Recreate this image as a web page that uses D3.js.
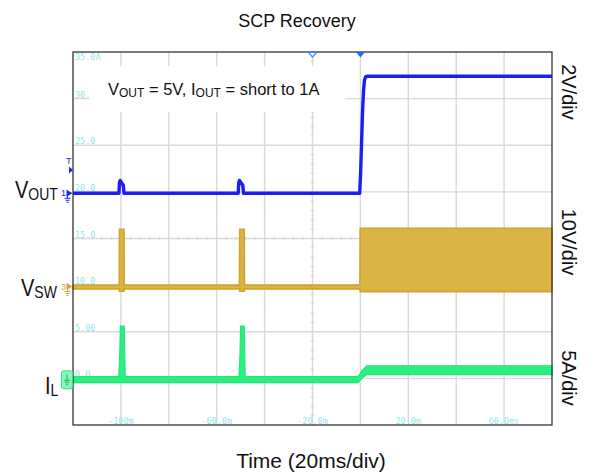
<!DOCTYPE html>
<html><head><meta charset="utf-8">
<script src="https://cdn.jsdelivr.net/npm/d3@7"></script>
<style>
html,body{margin:0;padding:0;background:#fff;}
svg{display:block;font-family:"Liberation Sans",Arial,sans-serif;}
</style></head><body>
<svg id="chart" width="593" height="473"></svg>
<script>
// ---------- data ----------
const title = "SCP Recovery";
const xAxisTitle = "Time (20ms/div)";
const timeDomain = [-120, 80];            // ms, 10 div x 20 ms
const xTickTimes = [-100, -60, -20, 20, 60];
const xTickLabels = ["-100m", "-60.0m", "-20.0m", "20.0m", "60.0ms"];
const yTickLabels = ["35.0A", "30.", "25.0", "20.0", "15.0", "10.0", "5.00", "0.0"];
const channelNames = ["VOUT", "VSW", "IL"];
const channelScales = ["2V/div", "10V/div", "5A/div"];

// VOUT (V)
const voutTime = [-120, -100.8, -100.6, -100.3, -99.4, -99.0, -98.7, -51.0, -50.8, -50.5, -49.5, -49.1, -48.8, -0.3, 0.1, 0.5, 0.9, 1.3, 1.7, 2.2, 3.0, 80];
const voutValue = [0, 0, 0.45, 0.55, 0.4, 0.35, 0, 0, 0.45, 0.55, 0.4, 0.35, 0, 0, 0.9, 2.2, 3.5, 4.4, 4.85, 5.0, 5.02, 5.02];

// VSW envelope (V)
const vswTime = [-120, -100.7, -100.6, -98.7, -98.6, -50.5, -50.4, -48.5, -48.4, -0.2, -0.1, 80];
const vswHigh = [0.3, 0.3, 12.3, 12.3, 0.3, 0.3, 12.3, 12.3, 0.3, 0.3, 12.5, 12.5];
const vswLow  = [-0.5, -0.5, -1.0, -1.0, -0.5, -0.5, -1.0, -1.0, -0.5, -0.5, -1.1, -1.1];

// IL envelope (A)
const ilTime = [-120, -100.9, -100.5, -100.2, -98.6, -98.2, -50.7, -50.3, -50.0, -48.5, -48.1, -0.9, 0.6, 2.6, 80];
const ilHigh = [0.3, 0.3, 2.5, 5.7, 5.7, 0.3, 0.3, 2.5, 5.7, 5.7, 0.3, 0.3, 0.9, 1.45, 1.45];
const ilLow  = [-0.35, -0.35, -0.35, -0.35, -0.35, -0.35, -0.35, -0.35, -0.35, -0.35, -0.35, -0.35, 0.1, 0.5, 0.5];

// ---------- layout ----------
const X0 = 73, X1 = 552, Y0 = 52, Y1 = 425;
const svg = d3.select("#chart");
const x = d3.scaleLinear().domain(timeDomain).range([X0, X1]);
const yDiv = d3.scaleLinear().domain([0, 8]).range([Y0, Y1]);
const divH = (Y1 - Y0) / 8, divW = (X1 - X0) / 10;
function chScale(zeroDiv, perDiv) {
  return d3.scaleLinear().domain([zeroDiv * perDiv, (zeroDiv - 8) * perDiv]).range([Y0, Y1]);
}
const yV1 = chScale(3.03, 2);
const yV3 = chScale(5.03, 10);
const yI4 = chScale(7.02, 5);

const gridColor = "#d9d9d9";
const g = svg.append("g");

// grid
const gridTimes = d3.range(10 + 1).map(i => timeDomain[0] + i * 20);
g.selectAll("line.vg").data(gridTimes.slice(1, -1)).join("line")
  .attr("x1", d => x(d)).attr("x2", d => x(d)).attr("y1", Y0).attr("y2", Y1)
  .attr("stroke", gridColor).attr("stroke-width", 1.4);
g.selectAll("line.hg").data(d3.range(1, 8)).join("line")
  .attr("y1", d => yDiv(d)).attr("y2", d => yDiv(d)).attr("x1", X0).attr("x2", X1)
  .attr("stroke", gridColor).attr("stroke-width", 1.4);
// center ticks
const cx = x(-20), cy = yDiv(4);
g.selectAll("line.tx").data(d3.range(0, 51)).join("line")
  .attr("x1", d => X0 + d * divW / 5).attr("x2", d => X0 + d * divW / 5)
  .attr("y1", cy - 2).attr("y2", cy + 2).attr("stroke", gridColor).attr("stroke-width", 1);
g.selectAll("line.ty").data(d3.range(0, 41)).join("line")
  .attr("y1", d => Y0 + d * divH / 5).attr("y2", d => Y0 + d * divH / 5)
  .attr("x1", cx - 2).attr("x2", cx + 2).attr("stroke", gridColor).attr("stroke-width", 1);

// cyan scale labels
const cyan = "#93e4ec";
g.selectAll("text.yl").data(yTickLabels).join("text")
  .attr("x", X0 + 2).attr("y", (d, i) => i === 0 ? yDiv(0) + 8 : yDiv(i) - 1)
  .attr("font-family", "DejaVu Sans Mono, monospace").attr("font-size", 8.5)
  .attr("fill", cyan).text(d => d);
g.selectAll("text.xl").data(xTickLabels).join("text")
  .attr("x", (d, i) => x(xTickTimes[i])).attr("y", Y1 - 1.5).attr("text-anchor", "middle")
  .attr("font-family", "DejaVu Sans Mono, monospace").attr("font-size", 8.5)
  .attr("fill", cyan).text(d => d);

// annotation box
g.append("rect").attr("x", 89).attr("y", 66).attr("width", 256).attr("height", 46).attr("fill", "#fff");
const ann = g.append("text").attr("x", 108).attr("y", 95).attr("font-size", 16.5).attr("fill", "#111");
ann.append("tspan").text("V");
ann.append("tspan").attr("font-size", 12).attr("dy", 2).text("OUT");
ann.append("tspan").attr("dy", -2).text(" = 5V, I");
ann.append("tspan").attr("font-size", 12).attr("dy", 2).text("OUT");
ann.append("tspan").attr("dy", -2).text(" = short to 1A");

// traces
const vsw = vswTime.map((t, i) => ({t, hi: vswHigh[i], lo: vswLow[i]}));
const il = ilTime.map((t, i) => ({t, hi: ilHigh[i], lo: ilLow[i]}));
const vout = voutTime.map((t, i) => ({t, v: voutValue[i]}));

g.append("path").datum(vsw)
  .attr("d", d3.area().x(d => x(d.t)).y0(d => yV3(d.lo)).y1(d => yV3(d.hi)))
  .attr("fill", "#dab444").attr("stroke", "#d1a42a").attr("stroke-width", 1.6);
g.append("path").datum(il)
  .attr("d", d3.area().x(d => x(d.t)).y0(d => yI4(d.lo)).y1(d => yI4(d.hi)))
  .attr("fill", "#2bf07f").attr("stroke", "#20e877").attr("stroke-width", 1.2);
g.append("path").datum(vout)
  .attr("d", d3.line().x(d => x(d.t)).y(d => yV1(d.v)))
  .attr("fill", "none").attr("stroke", "#1e1ef2").attr("stroke-width", 3.4).attr("stroke-linejoin", "round");

// frame
g.append("rect").attr("x", X0).attr("y", Y0).attr("width", X1 - X0).attr("height", Y1 - Y0)
  .attr("fill", "none").attr("stroke", "#333").attr("stroke-width", 1.3);

// trigger markers at top
g.append("path").attr("d", `M${x(-20) - 4},${Y0 + 0.5} L${x(-20) + 4},${Y0 + 0.5} L${x(-20)},${Y0 + 5} Z`)
  .attr("fill", "#fff").attr("stroke", "#3a8cff").attr("stroke-width", 1.2);
g.append("path").attr("d", `M${x(0) - 4.5},${Y0} L${x(0) + 4.5},${Y0} L${x(0)},${Y0 + 5.5} Z`)
  .attr("fill", "#1e6cff");

// channel markers on left
function gndMarker(yc, color, label) {
  g.append("text").attr("x", 61).attr("y", yc + 3).attr("font-size", 9).attr("fill", color).text(label);
  g.append("path").attr("d", `M66.5,${yc - 3.5} L72.5,${yc} L66.5,${yc + 3.5} Z`).attr("fill", color);
  g.append("path").attr("d", `M67.5,${yc} V${yc + 5} M64.5,${yc + 5} H70.5 M65.5,${yc + 7} H69.5 M66.5,${yc + 9} H68.5`)
    .attr("stroke", color).attr("stroke-width", 1).attr("fill", "none");
}
gndMarker(yV1(0), "#2222ee", "1");
gndMarker(yV3(0), "#d2a52e", "3");
g.append("rect").attr("x", 61.5).attr("y", yI4(0) - 8.5).attr("width", 11).attr("height", 18).attr("rx", 2)
  .attr("fill", "#86f5b8").attr("stroke", "#2ee581");
g.append("path").attr("d", `M67,${yI4(0) - 5} V${yI4(0) + 1} M64,${yI4(0) + 1} H70 M65,${yI4(0) + 3} H69 M66,${yI4(0) + 5} H68`)
  .attr("stroke", "#14b45a").attr("stroke-width", 1).attr("fill", "none");
// trigger level marker
g.append("text").attr("x", 66).attr("y", 164).attr("font-size", 9).attr("fill", "#2222ee").text("T");
g.append("path").attr("d", "M69,166.5 L73,170 L69,173.5 Z").attr("fill", "#2222ee");

// left channel labels
function chanLabel(xp, yp, main, sub) {
  const t = svg.append("text").attr("transform", `translate(${xp},${yp}) scale(1,1.15)`)
    .attr("font-size", 20).attr("fill", "#111");
  t.append("tspan").text(main);
  t.append("tspan").attr("font-size", 14).attr("dy", 2).text(sub);
}
chanLabel(15, 198, "V", channelNames[0].slice(1));
chanLabel(21, 296, "V", channelNames[1].slice(1));
chanLabel(45, 394, "I", channelNames[2].slice(1));

// right scale labels
const rightY = [92, 242, 378];
svg.selectAll("text.rs").data(channelScales).join("text")
  .attr("transform", (d, i) => `translate(562,${rightY[i]}) rotate(90)`)
  .attr("text-anchor", "middle").attr("font-size", 20).attr("fill", "#111").text(d => d);

// titles
svg.append("text").attr("x", 297).attr("y", 27).attr("text-anchor", "middle")
  .attr("font-size", 18).attr("fill", "#111").text(title);
svg.append("text").attr("x", 311).attr("y", 468).attr("text-anchor", "middle")
  .attr("font-size", 21).attr("fill", "#111").text(xAxisTitle);
</script>
</body></html>
